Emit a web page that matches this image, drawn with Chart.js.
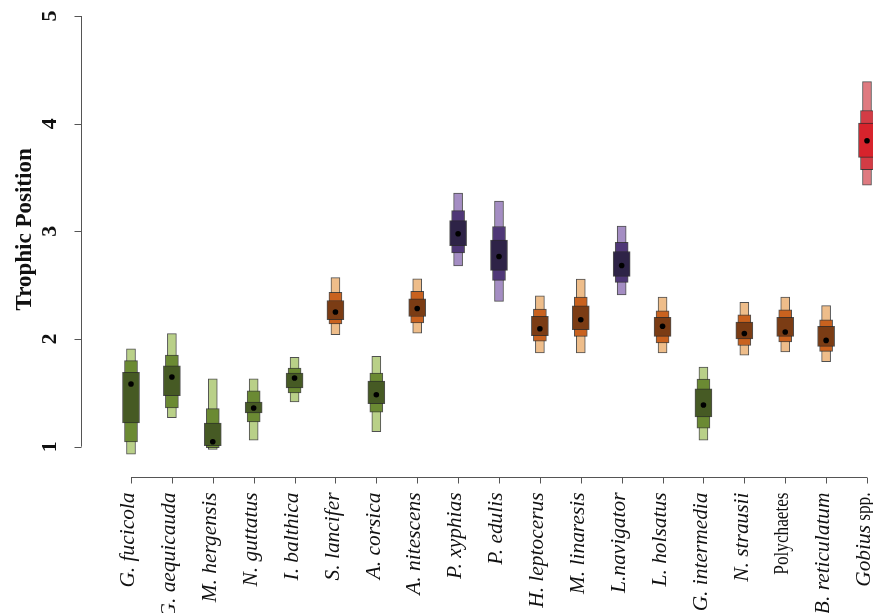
<!DOCTYPE html>
<html>
<head>
<meta charset="utf-8">
<script src="https://cdn.jsdelivr.net/npm/chart.js@4.4.1/dist/chart.umd.min.js"></script>
<style>
  html, body { margin: 0; padding: 0; background: #ffffff; overflow: hidden; }
  #wrap { width: 873px; height: 613px; position: relative; }
</style>
</head>
<body>
<div id="wrap"><canvas id="c"></canvas></div>
<script>
// ---- data ----
const species = ["G. fucicola","G. aequicauda","M. hergensis","N. guttatus","I. balthica","S. lancifer","A. corsica","A. nitescens","P. xyphias","P. edulis","H. leptocerus","M. linaresis","L.navigator","L. holsatus","G. intermedia","N. strausii","Polychaetes","B. reticulatum","Gobius spp."];
const groups = ["green","green","green","green","green","orange","green","orange","purple","purple","orange","orange","purple","orange","green","orange","orange","orange","red"];
const lo95 = [0.93,1.27,0.975,1.06,1.415,2.04,1.14,2.055,2.68,2.35,1.87,1.87,2.41,1.87,1.06,1.85,1.88,1.79,3.43];
const hi95 = [1.91,2.05,1.63,1.63,1.83,2.57,1.84,2.56,3.355,3.28,2.40,2.557,3.05,2.39,1.74,2.34,2.39,2.31,4.39];
const lo75 = [1.044,1.36,0.99,1.23,1.50,2.14,1.32,2.15,2.80,2.545,1.98,2.025,2.526,1.963,1.173,1.94,1.972,1.885,3.572];
const hi75 = [1.80,1.85,1.353,1.52,1.73,2.433,1.684,2.442,3.193,3.045,2.279,2.39,2.897,2.262,1.628,2.225,2.272,2.179,4.122];
const lo50 = [1.22,1.474,1.01,1.313,1.545,2.179,1.399,2.209,2.866,2.637,2.031,2.087,2.582,2.025,1.276,2.0,2.025,1.931,3.687];
const hi50 = [1.69,1.752,1.22,1.415,1.684,2.358,1.61,2.374,3.10,2.92,2.21,2.309,2.813,2.201,1.538,2.157,2.201,2.118,4.005];
const means = [1.582,1.647,1.046,1.359,1.638,2.251,1.483,2.284,2.978,2.766,2.095,2.179,2.683,2.118,1.387,2.052,2.065,1.987,3.841];
const yTicks = [1,2,3,4,5];
const yTitle = "Trophic Position";
const uprightLabels = ["Polychaetes"];

// palette: [95%, 75%, 50%]
const palette = {
  green:  ["#b9d088", "#6b8a33", "#465a24"],
  orange: ["#eebd8a", "#c9621f", "#7b3c14"],
  purple: ["#a48dc3", "#4f3777", "#2e2347"],
  red:    ["#df7a80", "#d33c45", "#d7232c"]
};

const xs = species.map((s, i) => i + 1);
const mk = (lo, hi) => xs.map((x, i) => ({ x: x, y: [lo[i], hi[i]] }));
const cols = k => groups.map(g => palette[g][k]);
const edge = "rgba(35,35,35,0.8)";

const serif = "'Liberation Serif', 'Times New Roman', serif";

const rAxes = {
  id: 'rAxes',
  afterDraw(chart) {
    const c = chart.ctx, xS = chart.scales.x, yS = chart.scales.y, a = chart.chartArea;
    c.save();
    c.strokeStyle = "#555555";
    c.lineWidth = 1;
    c.fillStyle = "#111111";
    // y axis
    const ax = Math.round(a.left) + 0.5;
    c.beginPath();
    c.moveTo(ax, yS.getPixelForValue(yTicks[0]));
    c.lineTo(ax, yS.getPixelForValue(yTicks[yTicks.length - 1]));
    yTicks.forEach(t => {
      const py = Math.round(yS.getPixelForValue(t)) + 0.5;
      c.moveTo(ax, py); c.lineTo(ax - 7, py);
    });
    c.stroke();
    yTicks.forEach(t => {
      const py = yS.getPixelForValue(t);
      c.save(); c.translate(ax - 31, py); c.rotate(-Math.PI / 2);
      c.font = "bold 22px " + serif; c.textAlign = "center"; c.textBaseline = "middle";
      c.fillText(String(t), 0, 0); c.restore();
    });
    // y title
    c.save(); c.translate(25, (yS.getPixelForValue(yTicks[0]) + yS.getPixelForValue(yTicks[yTicks.length-1])) / 2 - 2);
    c.rotate(-Math.PI / 2);
    c.font = "bold 23px " + serif; c.textAlign = "center"; c.textBaseline = "middle";
    c.fillText(yTitle, 0, 0); c.restore();
    // x axis
    const ay = Math.round(a.bottom) - 0.5;
    c.beginPath();
    c.moveTo(xS.getPixelForValue(xs[0]), ay);
    c.lineTo(xS.getPixelForValue(xs[xs.length - 1]), ay);
    xs.forEach(v => {
      const px = Math.round(xS.getPixelForValue(v)) + 0.5;
      c.moveTo(px, ay); c.lineTo(px, ay + 6);
    });
    c.stroke();
    const italicFont = "italic 20px " + serif, romanFont = "20px " + serif;
    const lenScale = 1.07, romanScale = 0.86;
    species.forEach((s, i) => {
      const px = xS.getPixelForValue(xs[i]) - 2;
      let py = ay + 15;
      const drawPart = (txt, font, sc) => {
        c.save(); c.translate(px, py); c.rotate(-Math.PI / 2); c.scale(sc, 1);
        c.font = font; c.textAlign = "right"; c.textBaseline = "middle";
        c.fillText(txt, 0, 0);
        const w = c.measureText(txt).width * sc;
        c.restore();
        return w;
      };
      if (uprightLabels.includes(s)) {
        drawPart(s, romanFont, romanScale);
      } else if (s.endsWith(" spp.")) {
        const w = drawPart(" spp.", romanFont, romanScale);
        py += w;
        drawPart(s.slice(0, -5), italicFont, lenScale);
      } else {
        drawPart(s, italicFont, lenScale);
      }
    });
    c.restore();
  }
};

new Chart(document.getElementById('c'), {
  type: 'bar',
  data: {
    datasets: [
      { type: 'scatter', label: 'mean', data: xs.map((x, i) => ({ x: x, y: means[i] })),
        backgroundColor: '#000', borderColor: '#000', pointRadius: 2.8, pointBorderWidth: 0, order: 0 },
      { label: '50%', data: mk(lo50, hi50), backgroundColor: cols(2), borderColor: edge,
        borderWidth: 1, borderSkipped: false, barThickness: 17, grouped: false, order: 1 },
      { label: '75%', data: mk(lo75, hi75), backgroundColor: cols(1), borderColor: edge,
        borderWidth: 1, borderSkipped: false, barThickness: 13, grouped: false, order: 2 },
      { label: '95%', data: mk(lo95, hi95), backgroundColor: cols(0), borderColor: edge,
        borderWidth: 1, borderSkipped: false, barThickness: 9, grouped: false, order: 3 }
    ]
  },
  options: {
    responsive: true,
    maintainAspectRatio: false,
    animation: false,
    layout: { autoPadding: false, padding: { left: 81, right: 0, top: 0, bottom: 135 } },
    plugins: { legend: { display: false }, tooltip: { enabled: false } },
    scales: {
      x: { type: 'linear', display: false, min: -0.2228, max: 19.1467, offset: false },
      y: { type: 'linear', display: false, min: 0.7093, max: 5.1486 }
    }
  },
  plugins: [rAxes]
});
</script>
</body>
</html>
